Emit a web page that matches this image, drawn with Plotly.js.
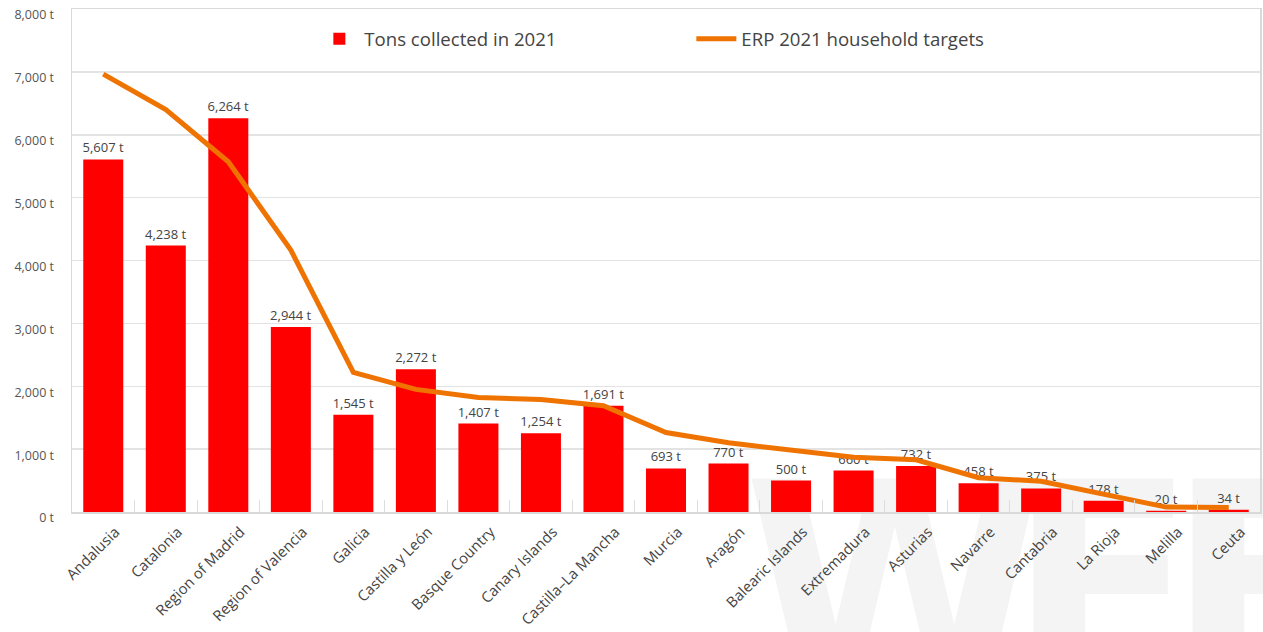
<!DOCTYPE html>
<html>
<head>
<meta charset="utf-8">
<script src="https://cdn.plot.ly/plotly-3.0.1.min.js"></script>
<style>html,body{margin:0;padding:0;background:#fff;}#chart{width:1263px;height:632px;}</style>
</head>
<body>
<div id="chart"></div>
<script>
const regions = ["Andalusia","Catalonia","Region of Madrid","Region of Valencia","Galicia","Castilla y León","Basque Country","Canary Islands","Castilla–La Mancha","Murcia","Aragón","Balearic Islands","Extremadura","Asturias","Navarre","Cantabria","La Rioja","Melilla","Ceuta"];
const tonsCollected = [5607,4238,6264,2944,1545,2272,1407,1254,1691,693,770,500,660,732,458,375,178,20,34];
const erpTargets = [6965,6400,5570,4165,2220,1950,1820,1790,1690,1265,1100,985,870,830,545,490,280,78,72];
const yTicks = [0,1000,2000,3000,4000,5000,6000,7000,8000];
const yTickText = yTicks.map(v => v.toLocaleString("en-US") + " t");

const FONT = "Open Sans, Noto Sans, sans-serif";

const traces = [
  {
    type: "bar",
    name: "Tons collected in 2021",
    x: regions,
    y: tonsCollected,
    marker: {color: "#ff0000"},
    texttemplate: "%{y:,} t",
    textposition: "outside",
    constraintext: "none",
    cliponaxis: false,
    textfont: {family: FONT, size: 13, color: "#444444"},
    hoverinfo: "x+y"
  },
  {
    type: "scatter",
    mode: "lines",
    name: "ERP 2021 household targets",
    x: regions,
    y: erpTargets,
    line: {color: "#ef7300", width: 5},
    hoverinfo: "x+y"
  }
];

function watermarkLetter(letter, x0) {
  return {
    type: "rect", xref: "paper", yref: "paper",
    x0: x0, x1: x0 + 0.25, y0: -0.15, y1: -0.057,
    line: {width: 0}, fillcolor: "rgba(0,0,0,0)",
    layer: "below",
    label: {
      text: letter,
      textposition: "middle left",
      font: {family: "DejaVu Sans, sans-serif", size: 275, color: "#f4f4f4", weight: "bold"}
    }
  };
}

const layout = {
  width: 1263,
  height: 632,
  margin: {l: 72, r: 3, t: 9, b: 120},
  paper_bgcolor: "#ffffff",
  plot_bgcolor: "rgba(0,0,0,0)",
  font: {family: FONT, color: "#444444"},
  bargap: 0.36,
  showlegend: true,
  legend: {
    orientation: "h",
    x: 0.204, xanchor: "left",
    y: 0.94, yanchor: "middle",
    font: {family: FONT, size: 18.6, color: "#444444"},
    bgcolor: "rgba(0,0,0,0)",
    itemwidth: 40,
    entrywidth: 322,
    traceorder: "normal"
  },
  xaxis: {
    type: "category",
    tickangle: -45,
    tickfont: {family: FONT, size: 14.8, color: "#444444"},
    ticklabelshift: 12,
    ticklabelstandoff: 4,
    showline: true, mirror: true, linecolor: "#d9d9d9", linewidth: 1.5,
    ticks: "inside", tickson: "boundaries", ticklen: 12, tickcolor: "#dddddd", tickwidth: 1,
    showgrid: false,
    fixedrange: true
  },
  yaxis: {
    range: [0, 8000],
    tickmode: "array",
    tickvals: yTicks,
    ticktext: yTickText,
    tickfont: {family: FONT, size: 12.5, color: "#555555"},
    ticklabelshift: 6,
    ticklabelstandoff: 14,
    showgrid: true, gridcolor: "#e3e3e3", gridwidth: 1.5,
    showline: true, mirror: true, linecolor: "#d9d9d9", linewidth: 1.5,
    zeroline: false,
    ticks: "",
    fixedrange: true
  },
  shapes: [
    watermarkLetter("W", 0.56),
    watermarkLetter("E", 0.783),
    watermarkLetter("F", 0.917)
  ]
};

Plotly.newPlot("chart", traces, layout, {displayModeBar: false, staticPlot: true});
</script>
</body>
</html>
